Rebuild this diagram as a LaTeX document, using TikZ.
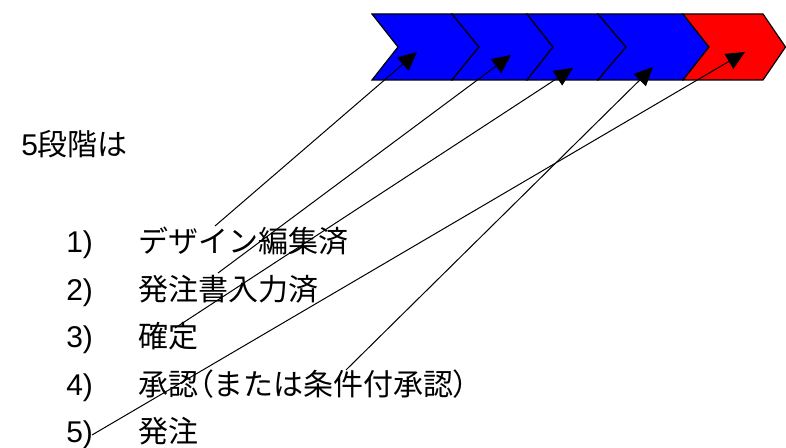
\documentclass[tikz,border=0pt]{standalone}
\usepackage{fontspec}
\setmainfont{Liberation Sans}
\newfontfamily\jp{Noto Sans CJK JP}
\newfontfamily\jpp{Noto Sans CJK JP}[RawFeature=+palt]
\usetikzlibrary{arrows.meta}
\definecolor{chevblue}{RGB}{0,0,255}
\definecolor{chevred}{RGB}{255,0,0}
\begin{document}
\begin{tikzpicture}[x=0.75pt,y=-0.75pt,
  chev/.style={draw=black,line width=0.9pt,line join=miter},
  lbl/.style={anchor=base west,inner sep=0pt,font=\fontsize{22.5pt}{27pt}\selectfont},
  link/.style={draw=black,line width=0.75pt,-{Triangle[length=14pt,width=13pt]}}]
\useasboundingbox (0,0) rectangle (786,448);
% chevrons
\path[chev,fill=chevblue] (372,14) -- (452,14) -- (479,47) -- (452,80) -- (372,80) -- (398,47) -- cycle;
\path[chev,fill=chevblue] (452,14) -- (527,14) -- (553,47) -- (527,80) -- (452,80) -- (479,47) -- cycle;
\path[chev,fill=chevblue] (527,14) -- (598,14) -- (626,47) -- (598,80) -- (527,80) -- (553,47) -- cycle;
\path[chev,fill=chevblue] (598,14) -- (683,14) -- (709,47) -- (683,80) -- (598,80) -- (626,47) -- cycle;
\path[chev,fill=chevred] (683,14) -- (763,14) -- (785.5,47) -- (763,80) -- (683,80) -- (709,47) -- cycle;
% texts
\node[lbl] (head) at (21,156) {5{\jp 段階は}};
\node[lbl] (n1) at (66,253) {1)};
\node[lbl] (n2) at (66,301) {2)};
\node[lbl] (n3) at (66,348) {3)};
\node[lbl] (n4) at (66,396) {4)};
\node[lbl] (n5) at (66,443) {5)};
\node[lbl] (t1) at (138,253) {\jp デザイン編集済};
\node[lbl] (t2) at (138,301) {\jp 発注書入力済};
\node[lbl] (t3) at (138,348) {\jp 確定};
\node[lbl] (t4) at (138,396) {\jp 承認{\jpp （}または条件付承認{\jpp ）}};
\node[lbl] (t5) at (138,443) {\jp 発注};
% connector ends
\coordinate (s1) at (215,226);
\coordinate (s2) at (218,273);
\coordinate (s3) at (175,328);
\coordinate (s4) at (346,370);
\coordinate (s5) at (92,435);
\coordinate (e1) at (417,52);
\coordinate (e2) at (511,55);
\coordinate (e3) at (573,68);
\coordinate (e4) at (653,67);
\coordinate (e5) at (745,52);
\draw[link] (s1) -- (e1);
\draw[link] (s2) -- (e2);
\draw[link] (s3) -- (e3);
\draw[link] (s4) -- (e4);
\draw[link] (s5) -- (e5);
\end{tikzpicture}
\end{document}
